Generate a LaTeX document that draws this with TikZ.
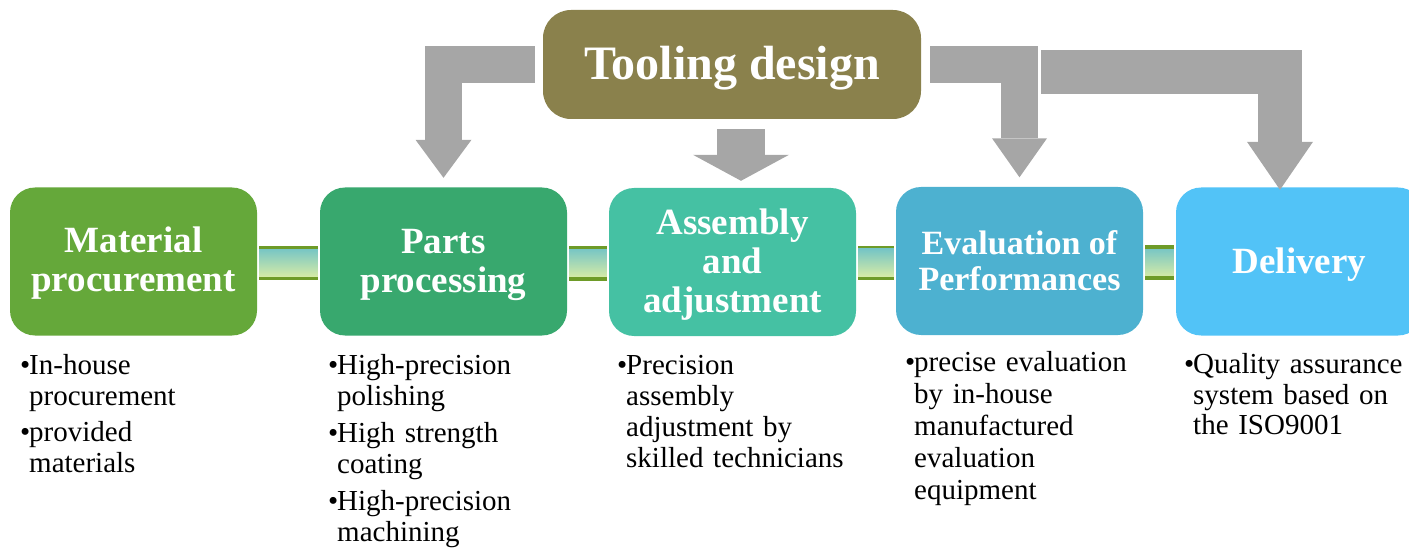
\documentclass[tikz,border=0pt]{standalone}
\usepackage{fontspec}
\setmainfont{Liberation Serif}
\usepackage{tikz}
\usepackage{xcolor}
\usetikzlibrary{arrows.meta, positioning, calc}

\definecolor{toolOlive}{HTML}{8A814C}
\definecolor{matGreen}{HTML}{65A83A}
\definecolor{partsGreen}{HTML}{38A86E}
\definecolor{asmTeal}{HTML}{45C1A3}
\definecolor{evalBlue}{HTML}{4DB1D0}
\definecolor{delivBlue}{HTML}{52C3F7}
\definecolor{arrowGray}{HTML}{A6A6A6}
\definecolor{linkTop}{HTML}{76C5C5}
\definecolor{linkBot}{HTML}{D6EBA6}
\definecolor{linkLine}{HTML}{6E9B28}

\newcommand{\itembul}{\makebox[9pt][l]{\textbullet}}
\newcommand{\contind}{\hspace*{9pt}}

\tikzset{
  stage/.style={rounded corners=25pt, minimum width=247pt, minimum height=148pt},
  title/.style={align=center, text=white, inner sep=0pt,
    font=\bfseries\fontsize{37}{39}\selectfont},
  notes/.style={anchor=base west, inner sep=0pt, text width=300pt, align=left,
    font=\fontsize{29}{31}\selectfont},
  blockarrow/.style n args={3}{draw=arrowGray, line width=#1, line cap=butt, line join=miter,
    -{Triangle[width=#2, length=#3, line width=0pt]}}
}

\begin{document}
\begin{tikzpicture}[x=1pt, y=-1pt]
\useasboundingbox (0,0) rectangle (1409,548);

% Design block on top
\node[rounded corners=28pt, fill=toolOlive, minimum width=378pt, minimum height=109pt] (tool) at (732,64.5) {};
\node[title, font=\bfseries\fontsize{48}{50}\selectfont] (tool-title) at ([yshift=-4pt]tool.center) {Tooling design};

% Process stages
\node[stage, fill=matGreen] (mat) at (133.5,261.5) {};
\node[stage, fill=partsGreen] (parts) at (443.5,261.5) {};
\node[stage, fill=asmTeal] (asm) at (732.5,262) {};
\node[stage, fill=evalBlue] (eval) at (1019.5,261) {};
\node[stage, fill=delivBlue] (deliv) at (1299.5,261.5) {};

\node[title] (mat-title) at ([yshift=-2pt]mat.center) {Material\\procurement};
\node[title] (parts-title) at ([yshift=-3pt]parts.center) {Parts\\processing};
\node[title] (asm-title) at ([yshift=-3pt]asm.center) {Assembly\\and\\adjustment};
\node[title, font=\bfseries\fontsize{34}{36}\selectfont] (eval-title) at ([yshift=0pt]eval.center) {Evaluation of\\Performances};
\node[title] (deliv-title) at ([yshift=-3pt]deliv.center) {Delivery};

% Links between stages
\foreach \a/\b in {mat/parts, parts/asm, asm/eval, eval/deliv} {
  \fill[top color=linkTop, bottom color=linkBot]
    ([xshift=2pt,yshift=13pt]\a.east) rectangle ([xshift=-2pt,yshift=-15.5pt]\b.west);
  \fill[linkLine] ([xshift=2pt,yshift=15.5pt]\a.east) rectangle ([xshift=-2pt,yshift=12.5pt]\b.west);
  \fill[linkLine] ([xshift=2pt,yshift=-15.5pt]\a.east) rectangle ([xshift=-2pt,yshift=-19pt]\b.west);
}

% Arrows from the design block
\draw[blockarrow={37pt}{56pt}{38pt}] ([xshift=-8pt]tool.west) -| ([yshift=9.5pt]parts.north);
\draw[blockarrow={48pt}{96pt}{26pt}] ([xshift=9pt,yshift=-10pt]tool.south) -- ([xshift=8.5pt,yshift=7pt]asm.north);
\draw[blockarrow={44pt}{66pt}{48pt}] ([xshift=120pt,yshift=-7.5pt]tool.east) -| ([xshift=-19.5pt,yshift=-2.5pt]deliv.north);
\draw[blockarrow={37pt}{55pt}{39pt}] ([xshift=9pt]tool.east) -| ([yshift=9.5pt]eval.north);

% Notes under each stage
\node[notes] (mat-notes) at (20,374)
  {\itembul In-house\\\contind procurement\\[5pt]\itembul provided\\\contind materials};
\node[notes] (parts-notes) at (328,374)
  {\itembul High-precision\\\contind polishing\\[6pt]\itembul High strength\\\contind coating\\[6pt]\itembul High-precision\\\contind machining};
\node[notes] (asm-notes) at (617,374)
  {\itembul Precision\\\contind assembly\\\contind adjustment by\\\contind skilled technicians};
\node[notes, font=\fontsize{29}{32}\selectfont] (eval-notes) at (905,371)
  {\itembul precise evaluation\\\contind by in-house\\\contind manufactured\\\contind evaluation\\\contind equipment};
\node[notes] (deliv-notes) at (1184,373)
  {\itembul Quality assurance\\\contind system based on\\\contind the ISO9001};
\end{tikzpicture}
\end{document}
